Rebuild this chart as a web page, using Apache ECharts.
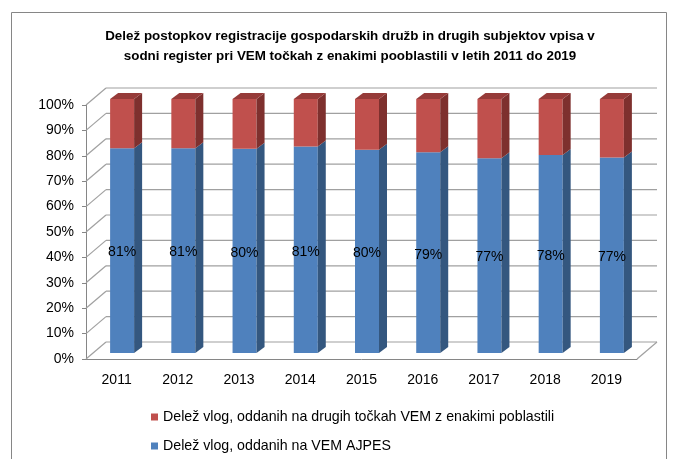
<!DOCTYPE html>
<html>
<head>
<meta charset="utf-8">
<script src="https://cdn.jsdelivr.net/npm/echarts@6/dist/echarts.min.js"></script>
<style>
  html, body { margin: 0; padding: 0; background: #fff; }
  #chart { width: 680px; height: 459px; }
</style>
</head>
<body>
<div id="chart"></div>
<script>
// leta
var years = ['2011', '2012', '2013', '2014', '2015', '2016', '2017', '2018', '2019'];
// delež vlog na VEM AJPES (%)
var ajpes = [80.6, 80.6, 80.4, 81.3, 80.0, 79.0, 76.7, 78.0, 77.0];
// delež vlog na drugih točkah VEM (%)
var drugi = [19.4, 19.4, 19.6, 18.7, 20.0, 21.0, 23.3, 22.0, 23.0];
// oznake osi y
var yTicks = [0, 10, 20, 30, 40, 50, 60, 70, 80, 90, 100];

var nameRed = 'Delež vlog, oddanih na drugih točkah VEM z enakimi poblastili';
var nameBlue = 'Delež vlog, oddanih na VEM AJPES';

var chart = echarts.init(document.getElementById('chart'));

// 3D zamik (stena zadaj, stolpci na sredini globine)
var backDx = 20, backDy = -17;
var barDx = 5.5, barDy = -6;
var sideDx = 8, sideDy = -6;
var barW = 24;

var blueData = years.map(function (y, i) { return [i, 0, ajpes[i]]; });
var redData = years.map(function (y, i) { return [i, ajpes[i], ajpes[i] + drugi[i]]; });
var wallData = yTicks.map(function (v) { return [0, v]; });

function renderWall(params, api) {
    var v = api.value(1);
    var band = api.size([1, 0])[0];
    var p0 = api.coord([0, v]);
    var p1 = api.coord([years.length - 1, v]);
    var left = p0[0] - band / 2;
    var right = p1[0] + band / 2;
    var y = p0[1];
    var style = { stroke: '#a0a0a0', lineWidth: 1.2 };
    var children = [
        { type: 'line', shape: { x1: left, y1: y, x2: left + backDx, y2: y + backDy }, style: style },
        { type: 'line', shape: { x1: left + backDx, y1: y + backDy, x2: right + backDx, y2: y + backDy }, style: style }
    ];
    if (v === 0) {
        children.push({ type: 'line', shape: { x1: right, y1: y, x2: right + backDx, y2: y + backDy }, style: style });
    }
    return { type: 'group', children: children };
}

function makeBar(front, side, top, withLabel) {
    return function (params, api) {
        var i = api.value(0);
        var pB = api.coord([i, api.value(1)]);
        var pT = api.coord([i, api.value(2)]);
        var cx = pB[0] + barDx;
        var x0 = cx - barW / 2, x1 = cx + barW / 2;
        var yb = pB[1] + barDy, yt = pT[1] + barDy;
        var children = [
            { type: 'rect', shape: { x: x0, y: yt, width: barW, height: yb - yt }, style: { fill: front } },
            { type: 'polygon', shape: { points: [[x1, yb], [x1 + sideDx, yb + sideDy], [x1 + sideDx, yt + sideDy], [x1, yt]] }, style: { fill: side } }
        ];
        if (top) {
            children.push({ type: 'polygon', shape: { points: [[x0, yt], [x0 + sideDx, yt + sideDy], [x1 + sideDx, yt + sideDy], [x1, yt]] }, style: { fill: top } });
        }
        if (withLabel) {
            children.push({
                type: 'text',
                style: {
                    x: cx, y: (yb + yt) / 2 + 2,
                    text: Math.round(api.value(2) - api.value(1)) + '%',
                    align: 'center', verticalAlign: 'middle',
                    fill: '#000', font: '14px "Liberation Sans", Arial, sans-serif'
                }
            });
        }
        return { type: 'group', children: children };
    };
}

chart.setOption({
    animation: false,
    textStyle: { fontFamily: '"Liberation Sans", Arial, sans-serif' },
    title: {
        text: 'Delež postopkov registracije gospodarskih družb in drugih subjektov vpisa v\nsodni register pri VEM točkah z enakimi pooblastili v letih 2011 do 2019',
        left: 345,
        textAlign: 'center',
        top: 21,
        textStyle: { fontSize: 13.4, fontWeight: 'bold', color: '#000', lineHeight: 20 }
    },
    graphic: [{
        type: 'rect',
        shape: { x: 11.5, y: 12.5, width: 655, height: 470 },
        style: { fill: 'none', stroke: '#868686', lineWidth: 1 },
        silent: true
    }],
    legend: {
        orient: 'vertical',
        left: 146,
        top: 405,
        itemWidth: 7,
        itemHeight: 7,
        itemGap: 15,
        icon: 'rect',
        data: [nameRed, nameBlue],
        textStyle: { fontSize: 14.2, color: '#000' },
        selectedMode: false
    },
    grid: { left: 86, right: 43, top: 105, bottom: 100 },
    xAxis: {
        type: 'category',
        data: years,
        axisLine: { lineStyle: { color: '#868686' } },
        axisTick: { length: 5, lineStyle: { color: '#868686' } },
        axisLabel: { fontSize: 14, color: '#000', margin: 14 }
    },
    yAxis: {
        type: 'value',
        min: 0,
        max: 100,
        interval: 10,
        axisLine: { show: true, lineStyle: { color: '#868686' } },
        axisTick: { show: true, length: 4, lineStyle: { color: '#868686' } },
        splitLine: { show: false },
        axisLabel: { fontSize: 14, color: '#000', margin: 12, formatter: '{value}%' }
    },
    series: [
        {
            type: 'custom',
            name: 'wall',
            renderItem: renderWall,
            data: wallData,
            encode: { x: 0, y: 1 },
            z: 1,
            silent: true
        },
        {
            type: 'custom',
            name: nameBlue,
            renderItem: makeBar('#4f81bd', '#34577f', null, true),
            data: blueData,
            encode: { x: 0, y: [1, 2] },
            itemStyle: { color: '#4f81bd' },
            z: 3
        },
        {
            type: 'custom',
            name: nameRed,
            renderItem: makeBar('#c0504d', '#7e302e', '#963b39', false),
            data: redData,
            encode: { x: 0, y: [1, 2] },
            itemStyle: { color: '#c0504d' },
            z: 3
        }
    ]
});
</script>
</body>
</html>
